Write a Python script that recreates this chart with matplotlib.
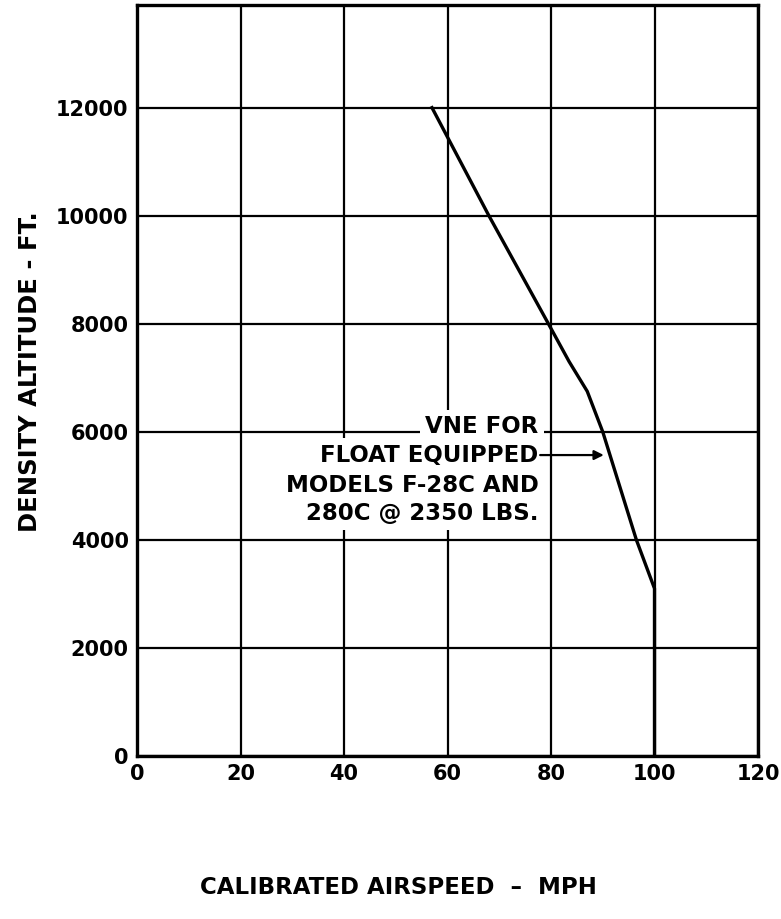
import matplotlib.pyplot as plt

# VNE curve, float equipped F-28C / 280C @ 2350 lbs
airspeed = [57, 68, 79.5, 83.5, 87, 90, 96.5, 100, 100]
altitude = [12000, 10000, 8000, 7300, 6750, 6000, 4000, 3100, 0]

x_ticks = [0, 20, 40, 60, 80, 100, 120]
y_ticks = [0, 2000, 4000, 6000, 8000, 10000, 12000]

note_lines = ['VNE FOR', 'FLOAT EQUIPPED', 'MODELS F-28C AND', '280C @ 2350 LBS.']
note_y = [6090, 5570, 5015, 4495]

FONT = 'DejaVu Sans'

fig = plt.figure(figsize=(7.81, 9.19), dpi=100)
ax = fig.add_axes([137 / 781, 163 / 919, 621 / 781, 751 / 919])

ax.plot(airspeed, altitude, color='black', lw=2.4, zorder=2)

ax.set_xlim(0, 120)
ax.set_ylim(0, 13900)
ax.set_xticks(x_ticks)
ax.set_yticks(y_ticks)
ax.set_xticklabels([str(v) for v in x_ticks], fontfamily=FONT,
                   fontweight='bold', fontsize=15)
ax.set_yticklabels([str(v) for v in y_ticks], fontfamily=FONT,
                   fontweight='bold', fontsize=15)
ax.tick_params(length=0, pad=6)
ax.set_axisbelow(True)
ax.grid(True, color='black', lw=1.6)
for s in ax.spines.values():
    s.set_linewidth(2.4)

# text boxes hide the grid behind each line
for txt, yy in zip(note_lines, note_y):
    ax.text(77.6, yy, txt, ha='right', va='center', fontfamily=FONT,
            fontweight='bold', fontsize=16.5, zorder=3,
            bbox=dict(fc='white', ec='none', pad=4))

ax.annotate('', xy=(90.2, 5570), xytext=(77.9, 5570),
            arrowprops=dict(arrowstyle='-|>', color='black', lw=1.6,
                            mutation_scale=14, shrinkA=0, shrinkB=0), zorder=3)

fig.text(30 / 781, 1 - 372 / 919, 'DENSITY ALTITUDE - FT.', rotation=90,
         ha='center', va='center', fontfamily=FONT,
         fontweight='bold', fontsize=17.5)
fig.text(398 / 781, 1 - 888 / 919, 'CALIBRATED AIRSPEED  \u2013  MPH',
         ha='center', va='center', fontfamily=FONT,
         fontweight='bold', fontsize=16.5)

fig.savefig('out.png', dpi=100)
